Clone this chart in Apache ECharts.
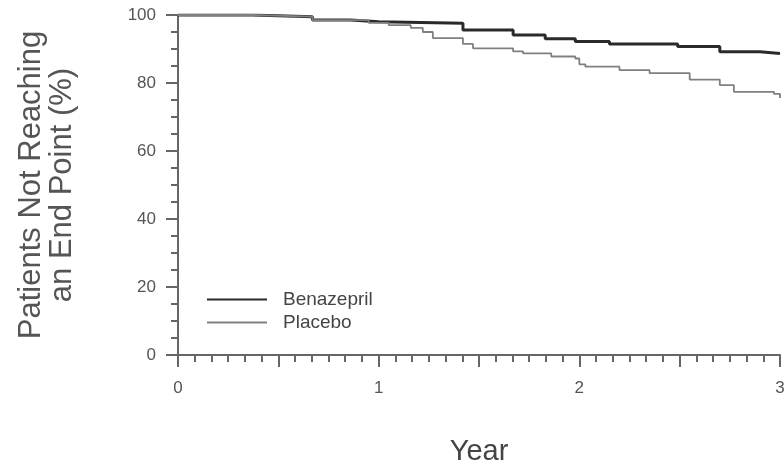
<!DOCTYPE html>
<html>
<head>
<meta charset="utf-8">
<script src="https://cdn.jsdelivr.net/npm/echarts@6/dist/echarts.min.js"></script>
<style>
  html, body { margin: 0; padding: 0; background: #fff; }
  #chart { width: 784px; height: 465px; }
</style>
</head>
<body>
<div id="chart"></div>
<script>
// Kaplan-Meier style curves: [year, % not reaching end point]
const benazepril = [
  [0, 100], [0.37, 99.5], [0.67, 98.5], [0.86, 98.0], [1.0, 97.6],
  [1.42, 95.6], [1.67, 94.1], [1.83, 93.0], [1.98, 92.2], [2.15, 91.5],
  [2.49, 90.7], [2.7, 89.2], [2.9, 88.7], [3.0, 88.5]
];
const placebo = [
  [0, 100], [0.37, 99.5], [0.67, 98.5], [0.95, 97.7], [1.05, 97.0],
  [1.16, 96.2], [1.22, 95.0], [1.27, 93.2], [1.42, 91.5], [1.47, 90.2],
  [1.67, 89.3], [1.72, 88.7], [1.86, 87.8], [1.98, 87.2], [2.0, 85.5],
  [2.03, 84.8], [2.2, 83.8], [2.35, 82.9], [2.55, 81.0], [2.7, 79.4],
  [2.77, 77.4], [2.97, 76.8], [3.0, 75.6]
];
const xLabels = ["0", "1", "2", "3"];
const yTitle = "Patients Not Reaching\nan End Point (%)";
const xTitle = "Year";

const axisColor = "#666";
const chart = echarts.init(document.getElementById("chart"), null, { renderer: "canvas" });

chart.setOption({
  animation: false,
  textStyle: { fontFamily: "Liberation Sans, Arial, sans-serif" },
  grid: { left: 178, right: 4, top: 15, bottom: 110, outerBoundsMode: "none" },
  legend: {
    left: 201,
    top: 285,
    orient: "vertical",
    itemWidth: 60,
    itemHeight: 14,
    itemGap: 4,
    itemStyle: { opacity: 0 },
    textStyle: { fontSize: 19, color: "#444", padding: [0, 0, 0, 11] },
    data: ["Benazepril", "Placebo"]
  },
  xAxis: {
    type: "value",
    min: 0,
    max: 3,
    interval: 0.5,
    offset: 6,
    name: xTitle,
    nameLocation: "middle",
    nameGap: 76,
    nameTextStyle: { fontSize: 29, color: "#444" },
    axisLine: { lineStyle: { color: axisColor, width: 2 } },
    axisTick: { show: true, length: 12, lineStyle: { color: axisColor, width: 2 } },
    minorTick: { show: true, splitNumber: 6, length: 7, lineStyle: { color: axisColor, width: 2 } },
    splitLine: { show: false },
    axisLabel: {
      fontSize: 17,
      color: "#555",
      margin: 19,
      formatter: (v) => (Number.isInteger(v) ? xLabels[v] : "")
    }
  },
  yAxis: {
    type: "value",
    min: 0,
    max: 100,
    interval: 20,
    offset: 6,
    name: yTitle,
    nameLocation: "middle",
    nameGap: 94,
    nameRotate: 90,
    nameTextStyle: { fontSize: 31, color: "#555", lineHeight: 31, align: "center" },
    axisLine: { show: true, lineStyle: { color: axisColor, width: 2 } },
    axisTick: { show: true, length: 12, lineStyle: { color: axisColor, width: 2 } },
    minorTick: { show: true, splitNumber: 4, length: 7, lineStyle: { color: axisColor, width: 2 } },
    splitLine: { show: false },
    axisLabel: { fontSize: 17, color: "#555", margin: 16 }
  },
  series: [
    {
      name: "Benazepril",
      type: "line",
      step: "end",
      symbol: "none",
      data: benazepril,
      lineStyle: { color: "#2a2a2a", width: 3 },
      itemStyle: { color: "#2a2a2a" }
    },
    {
      name: "Placebo",
      type: "line",
      step: "end",
      symbol: "none",
      data: placebo,
      lineStyle: { color: "#808080", width: 1.8 },
      itemStyle: { color: "#808080" }
    }
  ]
});
</script>
</body>
</html>
